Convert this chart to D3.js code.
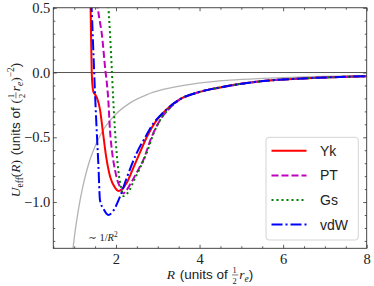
<!DOCTYPE html>
<html lang="en">
<head>
<meta charset="utf-8">
<script src="https://d3js.org/d3.v7.min.js"></script>
<style>
  body { margin: 0; background: #fff; }
  svg { display: block; }
  text { white-space: pre; }
</style>
</head>
<body>
<script>
var width = 374;
var height = 286;

// tick values and labels
var xTickVals = [2, 4, 6, 8];
var xTickLabels = ["2", "4", "6", "8"];
var yTickVals = [-1.0, -0.5, 0.0, 0.5];
var yTickLabels = ["\u22121.0", "\u22120.5", "0.0", "0.5"];

// series: R and U_eff(R)
var ykR = [1.39, 1.405, 1.42, 1.44, 1.46, 1.50, 1.55, 1.62, 1.68, 1.76, 1.86, 1.98, 2.055, 2.15, 2.26, 2.41, 2.57, 2.75, 2.97, 3.13, 3.53, 3.93, 4.57, 5.52, 6.32, 7.12, 8.0];
var ykU = [0.55, 0.25, 0.0, -0.11, -0.15, -0.17, -0.20, -0.29, -0.44, -0.64, -0.805, -0.89, -0.915, -0.90, -0.85, -0.74, -0.62, -0.49, -0.37, -0.31, -0.206, -0.156, -0.110, -0.066, -0.048, -0.037, -0.028];

var ptR = [1.54, 1.60, 1.658, 1.737, 1.816, 1.856, 1.91, 1.977, 2.04, 2.096, 2.175, 2.25, 2.376, 2.50, 2.653, 2.85, 3.05, 3.30, 3.53, 3.93, 4.57, 5.52, 6.32, 7.12, 8.0];
var ptU = [0.55, 0.42, 0.305, 0.045, -0.212, -0.444, -0.62, -0.753, -0.84, -0.882, -0.933, -0.91, -0.843, -0.77, -0.676, -0.50, -0.37, -0.27, -0.208, -0.157, -0.111, -0.066, -0.048, -0.037, -0.028];

var gsR = [1.81, 1.856, 1.897, 1.935, 1.976, 2.055, 2.136, 2.175, 2.30, 2.45, 2.60, 2.734, 2.90, 3.05, 3.30, 3.53, 3.93, 4.57, 5.52, 6.32, 7.12, 8.0];
var gsU = [0.55, 0.305, 0.045, -0.212, -0.444, -0.753, -0.907, -0.954, -0.92, -0.82, -0.72, -0.622, -0.47, -0.37, -0.27, -0.208, -0.157, -0.111, -0.066, -0.048, -0.037, -0.028];

var vdwR = [1.41, 1.43, 1.457, 1.498, 1.538, 1.58, 1.617, 1.713, 1.816, 1.93, 2.096, 2.25, 2.495, 2.70, 2.854, 3.13, 3.53, 3.93, 4.57, 5.52, 6.32, 7.12, 8.0];
var vdwU = [0.55, 0.40, 0.174, -0.158, -0.444, -0.72, -0.985, -1.06, -1.10, -1.07, -0.959, -0.82, -0.622, -0.50, -0.412, -0.31, -0.206, -0.156, -0.110, -0.066, -0.048, -0.037, -0.028];

// grey ~1/R^2 guide
var guideR = [0.95, 1.0, 1.1, 1.2, 1.35, 1.5, 1.7, 1.86, 2.0, 2.33, 2.73, 3.13, 3.93, 4.73, 5.52, 6.5, 8.0];
var guideU = [-1.42, -1.28, -1.06, -0.89, -0.70, -0.57, -0.44, -0.37, -0.32, -0.236, -0.172, -0.131, -0.084, -0.059, -0.045, -0.033, -0.024];

var seriesNames = ["Yk", "PT", "Gs", "vdW"];

var plotLeft = 53.3, plotRight = 366.7, plotTop = 7.75, plotBottom = 248.3;
var serif = "'Liberation Serif', 'DejaVu Serif', serif";
var sans = "'Liberation Sans', 'DejaVu Sans', sans-serif";

var x = d3.scaleLinear().domain([0.5, 8]).range([plotLeft, plotRight]);
var y = d3.scaleLinear().domain([-1.357, 0.5]).range([plotBottom, plotTop]);

var svg = d3.select("body").append("svg")
    .attr("width", width)
    .attr("height", height);

svg.append("clipPath").attr("id", "plotclip")
  .append("rect")
    .attr("x", plotLeft).attr("y", plotTop)
    .attr("width", plotRight - plotLeft).attr("height", plotBottom - plotTop);

var plot = svg.append("g").attr("clip-path", "url(#plotclip)");

function pairs(rs, us) {
    return rs.map(function(r, i) { return [r, us[i]]; });
}

var line = d3.line()
    .x(function(d) { return x(d[0]); })
    .y(function(d) { return y(d[1]); })
    .curve(d3.curveMonotoneX);

// grey guide curve
plot.append("path")
    .attr("d", line(pairs(guideR, guideU)))
    .attr("fill", "none")
    .attr("stroke", "#b3b3b3")
    .attr("stroke-width", 1.3);

// zero line
plot.append("line")
    .attr("x1", plotLeft).attr("x2", plotRight)
    .attr("y1", y(0)).attr("y2", y(0))
    .attr("stroke", "#555")
    .attr("stroke-width", 1);

var styles = [
    { color: "#ff0000", dash: null },
    { color: "#bf00bf", dash: "7,3" },
    { color: "#008000", dash: "2,3" },
    { color: "#0000ff", dash: "11,3,2,3" }
];
var allData = [pairs(ykR, ykU), pairs(ptR, ptU), pairs(gsR, gsU), pairs(vdwR, vdwU)];

allData.forEach(function(d, i) {
    plot.append("path")
        .attr("d", line(d))
        .attr("fill", "none")
        .attr("stroke", styles[i].color)
        .attr("stroke-width", 2)
        .attr("stroke-dasharray", styles[i].dash);
});

// axes, ticks pointing inward on all sides
var minorX = d3.range(0.5, 8.01, 0.5).filter(function(v) { return xTickVals.indexOf(v) < 0; });
var minorY = d3.range(-13, 6).map(function(v) { return v / 10; })
    .filter(function(v) { return yTickVals.indexOf(v) < 0; });

function styleAxis(g) {
    g.select(".domain").remove();
    g.selectAll(".tick line").attr("stroke", "#333").attr("stroke-width", 0.8);
    g.selectAll("text").attr("fill", "#222").style("font-family", serif).style("font-size", "14.5px");
}

svg.append("g").attr("transform", "translate(0," + plotBottom + ")")
    .call(d3.axisBottom(x).tickValues(xTickVals).tickSize(-3.5).tickPadding(5)
        .tickFormat(function(d, i) { return xTickLabels[i]; }))
    .call(styleAxis);
svg.append("g").attr("transform", "translate(0," + plotBottom + ")")
    .call(d3.axisBottom(x).tickValues(minorX).tickSize(-2).tickFormat(""))
    .call(styleAxis);
svg.append("g").attr("transform", "translate(0," + plotTop + ")")
    .call(d3.axisTop(x).tickValues(xTickVals).tickSize(-3.5).tickFormat(""))
    .call(styleAxis);
svg.append("g").attr("transform", "translate(0," + plotTop + ")")
    .call(d3.axisTop(x).tickValues(minorX).tickSize(-2).tickFormat(""))
    .call(styleAxis);

svg.append("g").attr("transform", "translate(" + plotLeft + ",0)")
    .call(d3.axisLeft(y).tickValues(yTickVals).tickSize(-3.5).tickPadding(3)
        .tickFormat(function(d, i) { return yTickLabels[i]; }))
    .call(styleAxis);
svg.append("g").attr("transform", "translate(" + plotLeft + ",0)")
    .call(d3.axisLeft(y).tickValues(minorY).tickSize(-2).tickFormat(""))
    .call(styleAxis);
svg.append("g").attr("transform", "translate(" + plotRight + ",0)")
    .call(d3.axisRight(y).tickValues(yTickVals).tickSize(-3.5).tickFormat(""))
    .call(styleAxis);
svg.append("g").attr("transform", "translate(" + plotRight + ",0)")
    .call(d3.axisRight(y).tickValues(minorY).tickSize(-2).tickFormat(""))
    .call(styleAxis);

// frame
svg.append("rect")
    .attr("x", plotLeft).attr("y", plotTop)
    .attr("width", plotRight - plotLeft).attr("height", plotBottom - plotTop)
    .attr("fill", "none")
    .attr("stroke", "#333")
    .attr("stroke-width", 0.9);

// rich text helper: pieces laid out left to right, returns group and width
function rich(parent, pieces, fs) {
    var g = parent.append("g");
    var cx = 0;
    pieces.forEach(function(p) {
        if (p.frac) {
            var s = fs * 0.62;
            var a = g.append("text").attr("x", cx + 1).attr("y", -fs * 0.43)
                .style("font-family", serif).style("font-size", s + "px").attr("fill", "#222").text("1");
            var b = g.append("text").attr("x", cx + 1).attr("y", fs * 0.38)
                .style("font-family", serif).style("font-size", s + "px").attr("fill", "#222").text("2");
            var w = Math.max(a.node().getComputedTextLength(), b.node().getComputedTextLength()) + 2;
            g.append("line").attr("x1", cx + 0.5).attr("x2", cx + w + 0.5)
                .attr("y1", -fs * 0.3).attr("y2", -fs * 0.3)
                .attr("stroke", "#222").attr("stroke-width", 0.6);
            cx += w + 1.5;
        } else {
            var sz = fs * (p.scale || 1);
            var t = g.append("text").attr("x", cx).attr("y", p.dy || 0)
                .style("font-family", p.font === "sans" ? sans : serif)
                .style("font-style", p.italic ? "italic" : "normal")
                .style("font-size", sz + "px")
                .attr("fill", "#222")
                .text(p.t);
            cx += t.node().getComputedTextLength() + (p.pad || 0);
        }
    });
    return { g: g, w: cx };
}

// x label
var xl = rich(svg, [
    { t: "R", italic: true, pad: 1 },
    { t: " (units of ", font: "sans" },
    { frac: true },
    { t: "r", italic: true },
    { t: "e", italic: true, scale: 0.7, dy: 3 },
    { t: ")", font: "sans" }
], 13.5);
xl.g.attr("transform", "translate(" + (210 - xl.w / 2) + ",279)");

// y label
var yl = rich(svg, [
    { t: "U", italic: true },
    { t: "eff", scale: 0.7, dy: 3 },
    { t: "(" },
    { t: "R", italic: true },
    { t: ")", pad: 1 },
    { t: " (units of ", font: "sans" },
    { t: "(" },
    { frac: true },
    { t: "r", italic: true },
    { t: "e", italic: true, scale: 0.7, dy: 3 },
    { t: ")" },
    { t: "\u22122", scale: 0.7, dy: -6 },
    { t: ")", font: "sans" }
], 13.5);
yl.g.attr("transform", "translate(20," + (130 + yl.w / 2) + ") rotate(-90)");

// ~1/R^2 annotation
var an = rich(svg, [
    { t: "\u223C 1/" },
    { t: "R", italic: true },
    { t: "2", scale: 0.7, dy: -4 }
], 10.5);
an.g.attr("transform", "translate(88,241)");

// legend
var lg = svg.append("g");
lg.append("rect")
    .attr("x", 266).attr("y", 137.3)
    .attr("width", 92.3).attr("height", 102.7)
    .attr("rx", 3)
    .attr("fill", "#fff").attr("fill-opacity", 0.8)
    .attr("stroke", "#d4d4d4").attr("stroke-width", 1);

seriesNames.forEach(function(name, i) {
    var ly = 150.8 + i * 24.6;
    lg.append("line")
        .attr("x1", 271.5).attr("x2", 306.5)
        .attr("y1", ly).attr("y2", ly)
        .attr("stroke", styles[i].color)
        .attr("stroke-width", 2)
        .attr("stroke-dasharray", styles[i].dash);
    lg.append("text")
        .attr("x", 320).attr("y", ly + 5)
        .style("font-family", sans)
        .style("font-size", "14px")
        .attr("fill", "#222")
        .text(name);
});
</script>
</body>
</html>
